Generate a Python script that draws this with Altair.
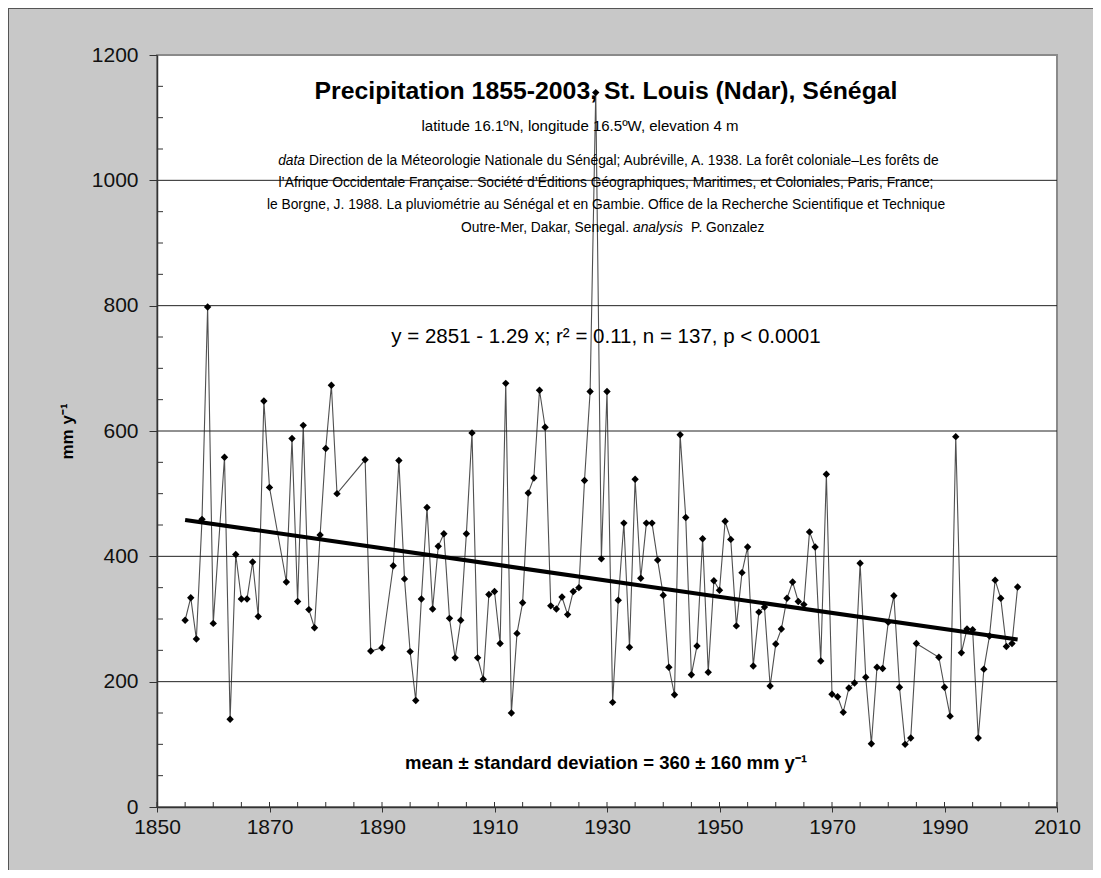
import altair as alt
import pandas as pd

# ---- data ----
years = [1855, 1856, 1857, 1858, 1859, 1860, 1862, 1863, 1864, 1865, 1866, 1867, 1868, 1869, 1870,
         1873, 1874, 1875, 1876, 1877, 1878, 1879, 1880, 1881, 1882, 1887, 1888, 1890, 1892, 1893,
         1894, 1895, 1896, 1897, 1898, 1899, 1900, 1901, 1902, 1903, 1904, 1905, 1906, 1907, 1908,
         1909, 1910, 1911, 1912, 1913, 1914, 1915, 1916, 1917, 1918, 1919, 1920, 1921, 1922, 1923,
         1924, 1925, 1926, 1927, 1928, 1929, 1930, 1931, 1932, 1933, 1934, 1935, 1936, 1937, 1938,
         1939, 1940, 1941, 1942, 1943, 1944, 1945, 1946, 1947, 1948, 1949, 1950, 1951, 1952, 1953,
         1954, 1955, 1956, 1957, 1958, 1959, 1960, 1961, 1962, 1963, 1964, 1965, 1966, 1967, 1968,
         1969, 1970, 1971, 1972, 1973, 1974, 1975, 1976, 1977, 1978, 1979, 1980, 1981, 1982, 1983,
         1984, 1985, 1989, 1990, 1991, 1992, 1993, 1994, 1995, 1996, 1997, 1998, 1999, 2000, 2001,
         2002, 2003]
precip = [298, 334, 268, 459, 798, 293, 558, 140, 403, 332, 332, 391, 304, 648, 510,
          359, 588, 328, 609, 315, 286, 434, 572, 673, 500, 554, 249, 254, 385, 553,
          364, 248, 170, 332, 478, 316, 416, 436, 301, 238, 298, 436, 597, 238, 204,
          339, 344, 261, 676, 150, 277, 326, 501, 525, 665, 606, 321, 316, 335, 307,
          344, 350, 521, 663, 1140, 396, 663, 167, 330, 453, 255, 523, 365, 453, 453,
          394, 338, 223, 179, 594, 462, 211, 257, 428, 215, 361, 346, 456, 427, 289,
          374, 415, 225, 311, 319, 193, 260, 284, 333, 359, 328, 323, 439, 415, 233,
          531, 180, 176, 151, 190, 198, 389, 207, 101, 223, 221, 295, 337, 191, 100,
          110, 261, 239, 191, 145, 591, 246, 284, 283, 110, 220, 273, 362, 333, 256,
          261, 351]

trend_years = [1855, 2003]
trend_intercept = 2851
trend_slope = -1.29

x_tick_values = [1850, 1870, 1890, 1910, 1930, 1950, 1970, 1990, 2010]
x_minor_values = [1850, 1855, 1860, 1865, 1870, 1875, 1880, 1885, 1890, 1895, 1900, 1905, 1910,
                  1915, 1920, 1925, 1930, 1935, 1940, 1945, 1950, 1955, 1960, 1965, 1970, 1975,
                  1980, 1985, 1990, 1995, 2000, 2005, 2010]
y_tick_values = [0, 200, 400, 600, 800, 1000, 1200]
y_minor_values = [50, 100, 150, 250, 300, 350, 450, 500, 550, 650, 700, 750, 850, 900, 950,
                  1050, 1100, 1150]
grid_values = [200, 400, 600, 800, 1000]

title_text = "Precipitation 1855-2003, St. Louis (Ndar), Sénégal"
subtitle_text = "latitude 16.1ºN, longitude 16.5ºW, elevation 4 m"
ref_line1_italic = "data"
ref_line1 = "Direction de la Méteorologie Nationale du Sénégal; Aubréville, A. 1938. La forêt coloniale–Les forêts de"
ref_line2 = "l’Afrique Occidentale Française. Société d’Éditions Géographiques, Maritimes, et Coloniales, Paris, France;"
ref_line3 = "le Borgne, J. 1988. La pluviométrie au Sénégal et en Gambie. Office de la Recherche Scientifique et Technique"
ref_line4a = "Outre-Mer, Dakar, Senegal."
ref_line4_italic = "analysis"
ref_line4b = "P. Gonzalez"
equation_text = "y = 2851 - 1.29 x; r² = 0.11, n = 137, p < 0.0001"
mean_text = "mean ± standard deviation =  360 ± 160 mm y⁻¹"
y_title = "mm y⁻¹"

W, H = 900, 752
FONT = "Liberation Sans, Arial, sans-serif"

xs = alt.Scale(domain=[1850, 2010], nice=False, zero=False)
ys = alt.Scale(domain=[0, 1200], nice=False, zero=True)

x_axis = alt.Axis(values=x_tick_values, format="d", tickSize=5, labelPadding=4, labelFlush=False,
                  labelFont=FONT, labelFontSize=21, domainColor="#333", domainWidth=1.5,
                  tickColor="#333", tickWidth=1, labelColor="#111", grid=False, zindex=2)
y_axis = alt.Axis(values=y_tick_values, format="d", tickSize=8, labelPadding=11, labelFlush=False,
                  labelFont=FONT, labelFontSize=21, domainColor="#333", domainWidth=1.5,
                  tickColor="#333", tickWidth=1, labelColor="#111", grid=False, zindex=2,
                  titleFont=FONT, titleFontSize=17, titleFontWeight="bold",
                  titleColor="black", titlePadding=15)


def X(field):
    return alt.X(field, scale=xs, axis=x_axis, title=None)


def Y(field):
    return alt.Y(field, scale=ys, axis=y_axis, title=y_title)


df = pd.DataFrame({"year": years, "precip": precip})
trend_df = pd.DataFrame({"year": trend_years,
                         "precip": [trend_intercept + trend_slope * t for t in trend_years]})

line = alt.Chart(df).mark_line(color="#505050", strokeWidth=1.1).encode(x=X("year:Q"), y=Y("precip:Q"))

grid = alt.Chart(pd.DataFrame({"precip": grid_values})).mark_rule(color="#222", strokeWidth=1).encode(
    y=Y("precip:Q"), x=alt.value(0), x2=alt.value(W))

yminor = alt.Chart(pd.DataFrame({"precip": y_minor_values})).mark_rule(color="#333", strokeWidth=1).encode(
    y=Y("precip:Q"), x=alt.value(0), x2=alt.value(6))

xminor = alt.Chart(pd.DataFrame({"year": x_minor_values})).mark_rule(color="#333", strokeWidth=1).encode(
    x=X("year:Q"), y=alt.value(H - 5), y2=alt.value(H))

points = alt.Chart(df).mark_point(shape="diamond", filled=True, color="black", size=55, opacity=1).encode(
    x=X("year:Q"), y=Y("precip:Q"))

trend = alt.Chart(trend_df).mark_line(color="black", strokeWidth=4).encode(
    x=X("year:Q"), y=Y("precip:Q"))


def px_to_year(px):
    return 1850 + (px - 157) * 160 / W


def py_to_val(py):
    return (807 - py) * 1200 / H


def text_layer(rows, **kw):
    d = pd.DataFrame(rows, columns=["year", "precip", "label"])
    return alt.Chart(d).mark_text(baseline="middle", color="black", **kw).encode(
        x=X("year:Q"), y=Y("precip:Q"), text="label:N")


center_year = px_to_year(606)
REF = 13.8
title_layer = text_layer([(center_year, py_to_val(92), title_text)],
                         font=FONT, fontSize=24.8, fontWeight="bold", align="center")
sub_layer = text_layer([(px_to_year(580), py_to_val(126), subtitle_text)],
                       font=FONT, fontSize=15, align="center")
ref_center = text_layer([(center_year, py_to_val(183), ref_line2),
                         (center_year, py_to_val(205), ref_line3)],
                        font=FONT, fontSize=REF, align="center")
ref_left = text_layer([(px_to_year(309), py_to_val(161), ref_line1),
                       (px_to_year(691), py_to_val(228), ref_line4b)],
                      font=FONT, fontSize=REF, align="left")
ref_right = text_layer([(px_to_year(629), py_to_val(228), ref_line4a)],
                       font=FONT, fontSize=REF, align="right")
ref_italic_r = text_layer([(px_to_year(305), py_to_val(161), ref_line1_italic)],
                          font=FONT, fontSize=REF, fontStyle="italic", align="right")
ref_italic_l = text_layer([(px_to_year(633), py_to_val(228), ref_line4_italic)],
                          font=FONT, fontSize=REF, fontStyle="italic", align="left")
eq_layer = text_layer([(center_year, py_to_val(337), equation_text)],
                      font=FONT, fontSize=20.5, align="center")
mean_layer = text_layer([(center_year, py_to_val(763), mean_text)],
                        font=FONT, fontSize=18.5, fontWeight="bold", align="center")

frame_left = alt.Chart(pd.DataFrame({"a": [0]})).mark_rule(color="#555", strokeWidth=1, clip=False).encode(
    x=alt.value(-148.5), y=alt.value(-47), y2=alt.value(H + 63))
frame_top = alt.Chart(pd.DataFrame({"a": [0]})).mark_rule(color="#555", strokeWidth=1, clip=False).encode(
    y=alt.value(-46.5), x=alt.value(-149), x2=alt.value(W + 36))

chart = alt.layer(
    line, grid, yminor, xminor, points, trend,
    title_layer, sub_layer, ref_center, ref_left, ref_right, ref_italic_r, ref_italic_l,
    eq_layer, mean_layer, frame_left, frame_top
).properties(
    width=W, height=H,
    padding={"left": 149, "top": 47, "right": 36, "bottom": 63},
    autosize=alt.AutoSizeParams(type="none"),
    background="#c8c8c8",
).configure_view(stroke="#8a8a8a", strokeWidth=2, fill="white")

chart.save("out.html", embed_options={"renderer": "svg", "actions": False})
